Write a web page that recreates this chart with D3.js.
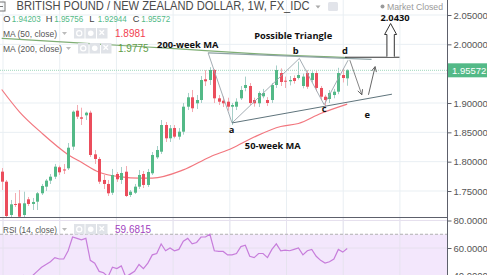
<!DOCTYPE html>
<html><head><meta charset="utf-8">
<script src="https://cdn.jsdelivr.net/npm/d3@7"></script>
<style>
html,body{margin:0;padding:0;background:#fff;overflow:hidden}
svg{display:block;font-family:"Liberation Sans",Arial,sans-serif}
</style></head><body>
<svg id="c" width="487" height="275"></svg>
<script>
// ---------- data ----------
const opens  = [1.7830,1.7659,1.7091,1.7279,1.7290,1.7091,1.7358,1.7279,1.7318,1.7461,1.7574,1.7677,1.7744,1.7904,1.7867,1.7887,1.8256,1.8869,1.8756,1.8790,1.8835,1.8125,1.8046,1.7688,1.7620,1.7471,1.7790,1.7688,1.7829,1.7432,1.7471,1.7574,1.7790,1.7603,1.7802,1.8074,1.8170,1.8625,1.8398,1.8574,1.8426,1.8511,1.8937,1.9097,1.8995,1.9051,1.9404,1.9392,1.9563,1.9080,1.9039,1.9022,1.8937,1.8937,1.9080,1.9256,1.9290,1.9051,1.8995,1.9114,1.9051,1.9051,1.9307,1.9511,1.9380,1.9370,1.9426,1.9426,1.9290,1.9511,1.9392,1.9511,1.9256,1.9107,1.9068,1.9136,1.9193,1.9477,1.94203];
const highs  = [1.7892,1.7688,1.7347,1.7466,1.7517,1.7488,1.7398,1.7381,1.7483,1.7620,1.7705,1.7790,1.7961,1.7932,1.7960,1.8318,1.8872,1.8966,1.8920,1.8852,1.8869,1.8199,1.8080,1.7773,1.7688,1.7876,1.7824,1.7909,1.7926,1.7517,1.7620,1.7858,1.7841,1.7876,1.8165,1.8267,1.8710,1.8676,1.8625,1.8625,1.8574,1.9000,1.9171,1.9222,1.9136,1.9460,1.9560,1.9610,1.9580,1.9136,1.9110,1.9090,1.9000,1.9080,1.9290,1.9450,1.9341,1.9090,1.9200,1.9240,1.9100,1.9340,1.9640,1.9590,1.9450,1.9460,1.9470,1.9704,1.9500,1.9560,1.9540,1.9550,1.9290,1.9140,1.9220,1.9240,1.9600,1.9580,1.95756];
const lows   = [1.7517,1.6972,1.7006,1.7228,1.6972,1.7040,1.7245,1.7176,1.7176,1.7432,1.7500,1.7620,1.7705,1.7773,1.7790,1.7858,1.8199,1.8727,1.8625,1.8710,1.8080,1.7960,1.7620,1.7534,1.7415,1.7432,1.7654,1.7620,1.7398,1.7398,1.7449,1.7534,1.7551,1.7569,1.7773,1.8046,1.8131,1.8335,1.8335,1.8398,1.8375,1.8460,1.8880,1.8846,1.8898,1.9000,1.9290,1.9307,1.9000,1.8966,1.8932,1.8870,1.8625,1.8880,1.9051,1.9200,1.8966,1.8937,1.8932,1.9080,1.8950,1.9000,1.9256,1.9290,1.9256,1.9300,1.9330,1.9400,1.9250,1.9240,1.9350,1.9200,1.9050,1.8940,1.9000,1.9080,1.9150,1.9350,1.92944];
const closes = [1.7659,1.7074,1.7273,1.7262,1.7062,1.7290,1.7279,1.7313,1.7461,1.7586,1.7677,1.7744,1.7915,1.7819,1.7850,1.8238,1.8852,1.8767,1.8732,1.8835,1.8114,1.8046,1.7659,1.7620,1.7461,1.7773,1.7700,1.7807,1.7415,1.7488,1.7574,1.7773,1.7603,1.7824,1.8114,1.8199,1.8625,1.8398,1.8569,1.8426,1.8511,1.8937,1.9097,1.8910,1.9051,1.9392,1.9370,1.9563,1.9080,1.9022,1.8995,1.8937,1.8966,1.9022,1.9222,1.9307,1.9000,1.8995,1.9171,1.9171,1.9000,1.9307,1.9563,1.9358,1.9363,1.9392,1.9375,1.9477,1.9450,1.9278,1.9511,1.9256,1.9107,1.9051,1.9171,1.9193,1.9511,1.9426,1.95572];

const ma50Idx = [0,4,9,15,18,22,27,31,34,41,47,52,57,63,67,72,78];
const ma50Val = [1.923,1.885,1.849,1.812,1.799,1.782,1.774,1.772,1.772,1.786,1.808,1.823,1.842,1.860,1.865,1.882,1.8981];
const ma200Idx = [0,20,40,56,78];
const ma200Val = [2.0103,2.0012,1.9922,1.9847,1.9775];

const rsiVals = [38,33,37,36,34,40,39,40,43,46,48,50,53,52,52,58,68,67,66,67,51,49,43,42,39,46,45,47,39,41,43,48,45,49,55,56,63,58,60,58,59,65,67,63,64,68,68,70,58,57.5,57.5,55,55,56,61,62,54,53,56,56,53,59,63,58,58.5,58,59,60,55,58,59,54,51,49,50,52,59,57,59.6815];

const priceTicks = [1.75,1.80,1.85,1.90,1.95,2.00,2.05];
const priceLabelTicks = [1.75,1.80,1.85,1.90,2.00,2.05];
const rsiTicks = [40,60,80];
const gridIdx = [0.3,13.1,25.9,38.7,51.5,64.3,77.1,89.9];

const ohlcLabels = ["O","H","L","C"];
const ohlcValues = ["1.94203","1.95756","1.92944","1.95572"];
const lastPrice = 1.95572;

// annotations (candle index, price)
const zigzag = [[46.6,1.9855],[52,1.866],[67.2,1.976],[72.8,1.897],[78.2,1.973]];
const lowerLine = [[52,1.866],[88.1,1.915]];
const upperLine = [[46.6,1.9855],[83.5,1.9745]];
const targetLine = [[77.5,1.978],[89.8,1.978]];
const projDown = [[78.6,1.973],[81.3,1.914]];
const projUp = [[82.8,1.914],[84.3,1.962]];
const targetArrow = {idx:87.8, from:1.979, to:2.0355};
const notes = [
  {t:"200-week MA", i:42.0, p:1.9935},
  {t:"Possible Triangle", i:65.8, p:2.0085},
  {t:"b", i:66.4, p:1.9840},
  {t:"d", i:77.5, p:1.9835},
  {t:"a", i:51.9, p:1.8490},
  {t:"c", i:72.8, p:1.8855},
  {t:"e", i:82.5, p:1.8750},
  {t:"50-week MA", i:61.2, p:1.8220},
  {t:"2.0430", i:88.8, p:2.0395}
];

// ---------- layout ----------
const W = 487, H = 275, axisX = 447, divY = 217;
const svg = d3.select("#c");
const xS = d3.scaleLinear().domain([0,78]).range([1.7,347.2]);
const yP = d3.scaleLinear().domain([1.75,2.05]).range([191,15]);
const yR = d3.scaleLinear().domain([40,80]).range([275.5,220.5]);

const defs = svg.append("defs");
defs.append("clipPath").attr("id","cp").append("rect").attr("x",0).attr("y",0).attr("width",axisX).attr("height",divY);
defs.append("clipPath").attr("id","cr").append("rect").attr("x",0).attr("y",divY).attr("width",axisX).attr("height",H-divY);
const mk = defs.append("marker").attr("id","ah").attr("viewBox","0 0 10 10").attr("refX",9).attr("refY",5)
  .attr("markerWidth",7).attr("markerHeight",7).attr("orient","auto-start-reverse");
mk.append("path").attr("d","M1,1 L9,5 L1,9").attr("fill","none").attr("stroke","#555").attr("stroke-width",1.3);

// grid
const grid = svg.append("g");
grid.selectAll("line.v").data(gridIdx).join("line")
  .attr("x1",d=>xS(d)).attr("x2",d=>xS(d)).attr("y1",0).attr("y2",H)
  .attr("stroke","#e9eff3").attr("stroke-width",1);
grid.selectAll("line.h").data(priceTicks).join("line")
  .attr("x1",0).attr("x2",axisX).attr("y1",d=>yP(d)).attr("y2",d=>yP(d))
  .attr("stroke","#e9eff3");

// RSI pane background
const rp = svg.append("g").attr("clip-path","url(#cr)");
rp.append("rect").attr("x",0).attr("width",axisX).attr("y",yR(70)).attr("height",yR(30)-yR(70)).attr("fill","#f3e7fc");
rp.selectAll("line.rg").data(rsiTicks).join("line").attr("x1",0).attr("x2",axisX)
  .attr("y1",d=>yR(d)).attr("y2",d=>yR(d)).attr("stroke","#e6e0ee");
rp.selectAll("line.rv").data(gridIdx).join("line")
  .attr("x1",d=>xS(d)).attr("x2",d=>xS(d)).attr("y1",divY).attr("y2",H).attr("stroke","#e6e3ef");
rp.append("line").attr("x1",0).attr("x2",axisX).attr("y1",yR(70)).attr("y2",yR(70))
  .attr("stroke","#b0b0b0").attr("stroke-dasharray","3,2");
rp.append("path").datum(rsiVals)
  .attr("d",d3.line().x((d,i)=>xS(i)).y(d=>yR(d)))
  .attr("fill","none").attr("stroke","#c77ddb").attr("stroke-width",1.2);

// price pane
const pp = svg.append("g").attr("clip-path","url(#cp)");
pp.append("line").attr("x1",0).attr("x2",axisX).attr("y1",yP(lastPrice)).attr("y2",yP(lastPrice))
  .attr("stroke","#9fd8bd").attr("stroke-dasharray","1,1");

pp.append("path").datum(ma200Idx.map((d,i)=>[d,ma200Val[i]]))
  .attr("d",d3.line().curve(d3.curveMonotoneX).x(d=>xS(d[0])).y(d=>yP(d[1])))
  .attr("fill","none").attr("stroke","#7fae74").attr("stroke-width",1.2);
pp.append("path").datum(ma50Idx.map((d,i)=>[d,ma50Val[i]]))
  .attr("d",d3.line().curve(d3.curveMonotoneX).x(d=>xS(d[0])).y(d=>yP(d[1])))
  .attr("fill","none").attr("stroke","#f2777f").attr("stroke-width",1.2);

const idx = d3.range(opens.length);
const up = i => closes[i] >= opens[i];
pp.selectAll("line.w").data(idx).join("line")
  .attr("x1",i=>Math.round(xS(i))+0.5).attr("x2",i=>Math.round(xS(i))+0.5)
  .attr("y1",i=>yP(highs[i])).attr("y2",i=>yP(lows[i]))
  .attr("stroke",i=>up(i)?"#a6cfc8":"#f3aab1").attr("stroke-width",1);
pp.selectAll("rect.b").data(idx).join("rect")
  .attr("x",i=>Math.round(xS(i))-1).attr("width",3)
  .attr("y",i=>yP(Math.max(opens[i],closes[i])))
  .attr("height",i=>Math.max(1,Math.abs(yP(opens[i])-yP(closes[i]))))
  .attr("fill",i=>up(i)?"#53b987":"#eb4d5c");

// annotations
const ln = d3.line().x(d=>xS(d[0])).y(d=>yP(d[1]));
pp.append("path").datum(upperLine).attr("d",ln).attr("fill","none").attr("stroke","#8fa3a6").attr("stroke-width",1.2);
pp.append("path").datum(zigzag).attr("d",ln).attr("fill","none").attr("stroke","#9aa4ab").attr("stroke-width",0.9);
pp.append("path").datum(lowerLine).attr("d",ln).attr("fill","none").attr("stroke","#5f747c").attr("stroke-width",1);
pp.append("path").datum(targetLine).attr("d",ln).attr("fill","none").attr("stroke","#333").attr("stroke-width",1);
pp.append("path").datum(projDown).attr("d",ln).attr("fill","none").attr("stroke","#777").attr("stroke-width",0.9).attr("marker-end","url(#ah)");
pp.append("path").datum(projUp).attr("d",ln).attr("fill","none").attr("stroke","#555").attr("stroke-width",0.9).attr("marker-end","url(#ah)");
{
  const cx = xS(targetArrow.idx), yb = yP(targetArrow.from), yt = yP(targetArrow.to);
  const hw = 3.7, aw = 6, ah = 11;
  const pts = [[cx-hw,yb],[cx-hw,yt+ah],[cx-aw,yt+ah],[cx,yt],[cx+aw,yt+ah],[cx+hw,yt+ah],[cx+hw,yb]];
  pp.append("path").attr("d","M"+pts.map(p=>p.join(",")).join("L")).attr("fill","#fff").attr("stroke","#333").attr("stroke-width",1);
}
pp.selectAll("text.n").data(notes).join("text")
  .attr("x",d=>xS(d.i)).attr("y",d=>yP(d.p)).attr("text-anchor","middle")
  .attr("font-family","'Open Sans',sans-serif").attr("font-weight","bold").attr("font-size",9.3).attr("fill","#111")
  .text(d=>d.t);

// divider & axis line
svg.append("line").attr("x1",0).attr("x2",axisX).attr("y1",divY+0.5).attr("y2",divY+0.5).attr("stroke","#5d606b");
svg.append("line").attr("x1",axisX+0.5).attr("x2",axisX+0.5).attr("y1",0).attr("y2",H).attr("stroke","#5d606b");

// price axis
const pa = svg.append("g").attr("transform",`translate(${axisX+0.5},0)`)
  .call(d3.axisRight(yP).tickValues(priceLabelTicks).tickFormat(d3.format(".5f")).tickSize(4).tickPadding(2));
pa.select(".domain").remove();
pa.selectAll("line").attr("stroke","#5d606b");
pa.selectAll("text").attr("font-size",9.5).attr("fill","#555").attr("font-family","'Liberation Sans',Arial,sans-serif");
const ra = svg.append("g").attr("transform",`translate(${axisX+0.5},0)`)
  .call(d3.axisRight(yR).tickValues(rsiTicks).tickFormat(d3.format(".4f")).tickSize(4).tickPadding(2));
ra.select(".domain").remove();
ra.selectAll("line").attr("stroke","#5d606b");
ra.selectAll("text").attr("font-size",9.5).attr("fill","#555").attr("font-family","'Liberation Sans',Arial,sans-serif");

// last price tag
const ly = yP(lastPrice);
svg.append("rect").attr("x",axisX+1).attr("y",ly-7).attr("width",W-axisX).attr("height",14).attr("fill","#53b987");
svg.append("text").attr("x",axisX+5).attr("y",ly+3.4).attr("font-size",9.5).attr("fill","#fff").text(d3.format(".5f")(lastPrice));

// header
const hdr = svg.append("g").attr("font-family","'Liberation Sans',Arial,sans-serif");
hdr.append("rect").attr("x",-4).attr("y",2).attr("width",9).attr("height",9).attr("fill","none").attr("stroke","#777");
hdr.append("line").attr("x1",-2).attr("x2",3).attr("y1",6.5).attr("y2",6.5).attr("stroke","#777");
hdr.append("text").attr("x",16.5).attr("y",10.3).attr("font-size",12).attr("fill","#4a4a4a")
  .attr("textLength",293).attr("lengthAdjust","spacingAndGlyphs")
  .text("BRITISH POUND / NEW ZEALAND DOLLAR, 1W, FX_IDC");
hdr.append("path").attr("d","M315.5,5.5h5l-2.5,3z").attr("fill","#aaa");
hdr.append("rect").attr("x",328).attr("y",2).attr("width",10).attr("height",9).attr("rx",1.5).attr("fill","#e2e4ea");
hdr.append("circle").attr("cx",382.5).attr("cy",6.5).attr("r",2).attr("fill","#999");
hdr.append("text").attr("x",387).attr("y",9.5).attr("font-size",9.5).attr("fill","#9a9a9a")
  .attr("textLength",56).attr("lengthAdjust","spacingAndGlyphs").text("Market Closed");

// OHLC row
const ohlcX = [3.3,45.7,89.3,132.7];
ohlcLabels.forEach((l,i)=>{
  hdr.append("text").attr("x",ohlcX[i]).attr("y",22).attr("font-size",9.3).attr("fill","#444").text(l);
  hdr.append("text").attr("x",ohlcX[i]+8.5).attr("y",22).attr("font-size",9.3).attr("fill","#53b987")
    .attr("textLength",29).attr("lengthAdjust","spacingAndGlyphs").text(ohlcValues[i]);
});

function legendRow(y, label, tl, iconX, valX, val, col){
  hdr.append("text").attr("x",3).attr("y",y).attr("font-size",9.5).attr("fill","#555")
    .attr("textLength",tl).attr("lengthAdjust","spacingAndGlyphs").text(label);
  hdr.append("path").attr("d",`M${iconX-12},${y-5}h5l-2.5,3z`).attr("fill","#bbb");
  [0,1,2].forEach(k=>{
    hdr.append("rect").attr("x",iconX+k*11.5).attr("y",y-9).attr("width",10.5).attr("height",10.5).attr("fill","#e0e3e8");
  });
  hdr.append("circle").attr("cx",iconX+5.25).attr("cy",y-3.75).attr("r",2.6).attr("fill","none").attr("stroke","#fff").attr("stroke-width",1.2);
  hdr.append("circle").attr("cx",iconX+16.75).attr("cy",y-3.75).attr("r",2.8).attr("fill","#fff");
  hdr.append("path").attr("d",`M${iconX+25.5},${y-6.75}l4.5,4.5M${iconX+30},${y-6.75}l-4.5,4.5`).attr("stroke","#fff").attr("stroke-width",1.3);
  hdr.append("text").attr("x",valX).attr("y",y).attr("font-size",10).attr("fill",col).text(val);
}
legendRow(37, "MA (50, close)", 54, 74, 115, d3.format(".4f")(ma50Val[ma50Val.length-1]), "#f2414f");
legendRow(52, "MA (200, close)", 59, 78, 118, d3.format(".4f")(ma200Val[ma200Val.length-1]), "#5e9c47");
legendRow(233, "RSI (14, close)", 54, 74, 115, d3.format(".4f")(rsiVals[rsiVals.length-1]), "#a23fc0");
</script>
</body></html>
